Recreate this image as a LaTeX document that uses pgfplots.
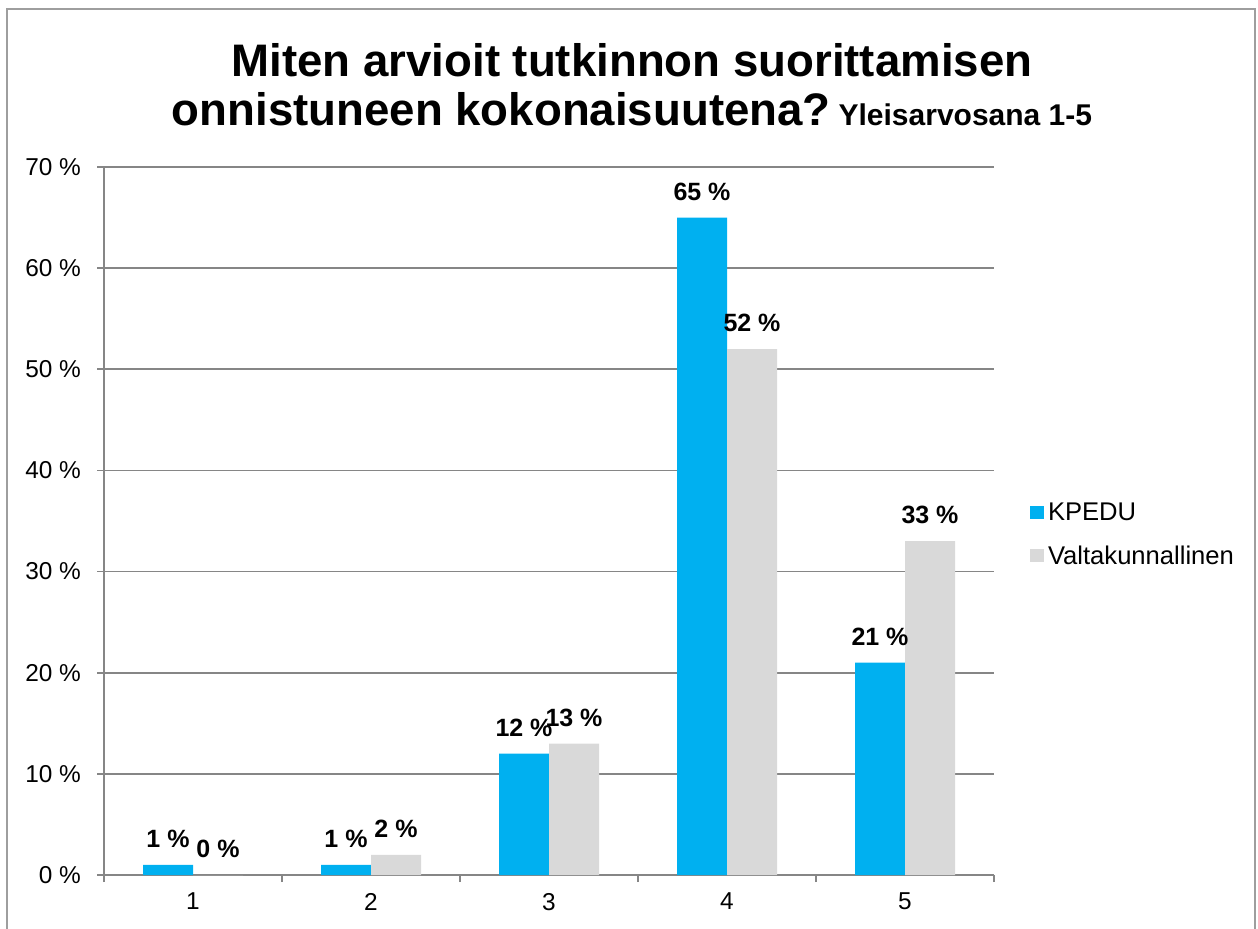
\documentclass[border=0pt]{standalone}
\usepackage{pgfplots}
\pgfplotsset{compat=1.18}
\usepackage{fontspec}
\setmainfont{Liberation Sans}
\definecolor{kblue}{RGB}{0,176,240}
\definecolor{vgrey}{RGB}{217,217,217}
\definecolor{lgrey}{RGB}{134,134,134}
\begin{document}
\begin{tikzpicture}
\useasboundingbox (0pt,0pt) rectangle (629pt,464pt);
\draw[lgrey!80, line width=1.2pt] (3.5pt,-5pt) -- (3.5pt,459.5pt) -- (627.5pt,459.5pt) -- (627.5pt,-5pt);
\node[font=\fontsize{22.8}{26}\selectfont\bfseries, anchor=base] at (316pt,425.5pt) {Miten arvioit tutkinnon suorittamisen};
\node[anchor=base, inner sep=0pt] at (316pt,401pt) {\fontsize{22.8}{26}\selectfont\bfseries onnistuneen kokonaisuutena?\hspace{4pt}\fontsize{15}{18}\selectfont Yleisarvosana 1-5};
\begin{axis}[
  at={(52pt,26.5pt)}, anchor=south west,
  scale only axis, width=445pt, height=354pt,
  ybar=0pt, bar width=25pt,
  xmin=0.5, xmax=5.5, ymin=0, ymax=70,
  xtick={1,2,3,4,5},
  minor xtick={0.5,1.5,2.5,3.5,4.5,5.5},
  major x tick style={draw=none},
  minor tick length=3.5pt,
  major tick length=3.5pt,
  tick align=outside,
  tick style={lgrey, line width=0.8pt},
  ytick={0,10,...,70},
  yticklabel={\pgfmathprintnumber{\tick}~\%},
  /pgf/number format/assume math mode=true,
  ticklabel style={font=\fontsize{12.2}{14}\selectfont},
  yticklabel style={xshift=-4.5pt},
  xticklabel style={yshift=-2pt},
  axis x line*=bottom, axis y line*=left,
  axis line style={lgrey, line width=0.8pt, -},
  ymajorgrids, grid style={lgrey, line width=0.8pt},
  nodes near coords={\pgfmathprintnumber{\pgfplotspointmeta}~\%},
  every node near coord/.append style={font=\fontsize{12.5}{15}\selectfont\bfseries, yshift=5pt, black},
  legend style={draw=none, fill=none, at={(1.04,0.48)}, anchor=west,
    font=\fontsize{12.8}{15}\selectfont, row sep=7pt, inner sep=0pt},
  legend cell align=left,
  legend image code/.code={\fill[#1] (0pt,-3pt) rectangle (7pt,3.5pt);},
  clip=false,
]
\addplot[fill=kblue, draw=none] coordinates {(1,1) (2,1) (3,12) (4,65) (5,21)};
\addplot[fill=vgrey, draw=none] coordinates {(1,0) (2,2) (3,13) (4,52) (5,33)};
\legend{KPEDU, Valtakunnallinen}
\end{axis}
\end{tikzpicture}
\end{document}
